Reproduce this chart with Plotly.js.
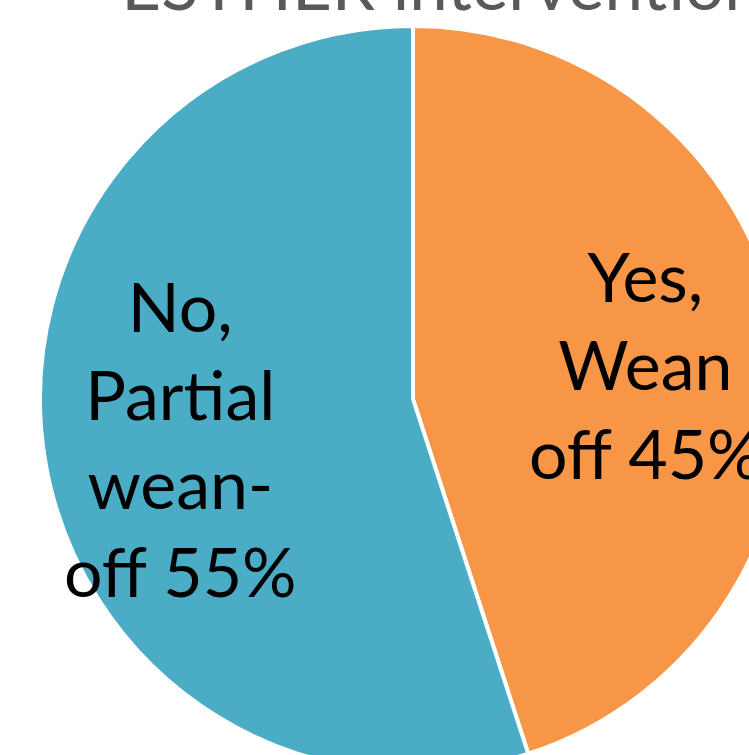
<!DOCTYPE html>
<html>
<head>
<meta charset="utf-8">
<script src="https://cdn.plot.ly/plotly-3.0.1.min.js"></script>
<style>
html,body{margin:0;padding:0;overflow:hidden;background:#fff;}
#chart{width:900px;height:900px;}
</style>
</head>
<body>
<div id="chart"></div>
<script>
const categories = ["Yes, Wean off", "No, Partial wean-off"];
const values = [45, 55];
const sliceLabels = ["Yes,<br>Wean<br>off 45%", "No,<br>Partial<br>wean-<br>off 55%"];
const colors = ["#F79646", "#4BACC6"];
const chartTitle = "ESTHER intervention";

const W = 900, H = 900;
const cx = 413, cy = 399, r = 373;
const FONT = "Lato, 'Open Sans', sans-serif";

const trace = {
  type: "pie",
  labels: categories,
  values: values,
  textinfo: "none",
  sort: false,
  direction: "clockwise",
  rotation: 0,
  marker: {colors: colors, line: {color: "#ffffff", width: 4}},
  domain: {x: [(cx - r) / W, (cx + r) / W], y: [1 - (cy + r) / H, 1 - (cy - r) / H]},
  hoverinfo: "none"
};

// label anchor offsets (px from pie centre) for each slice
const labelOffsets = [[232, -35], [-233, 39]];
const annotations = sliceLabels.map((t, i) => ({
  text: t,
  xref: "paper", yref: "paper",
  x: (cx + labelOffsets[i][0]) / W,
  y: 1 - (cy + labelOffsets[i][1]) / H,
  xanchor: "center", yanchor: "middle",
  showarrow: false,
  align: "center",
  font: {family: FONT, size: 68, color: "#000000"}
}));

const layout = {
  width: W, height: H,
  margin: {l: 0, r: 0, t: 0, b: 0},
  showlegend: false,
  paper_bgcolor: "#ffffff",
  annotations: annotations,
  title: {
    text: chartTitle,
    font: {family: FONT, size: 69, color: "#595959"},
    x: 442 / W, xanchor: "center",
    y: 1 - 10 / H, yanchor: "bottom", yref: "paper"
  }
};

Plotly.newPlot("chart", [trace], layout, {staticPlot: true});
</script>
</body>
</html>
